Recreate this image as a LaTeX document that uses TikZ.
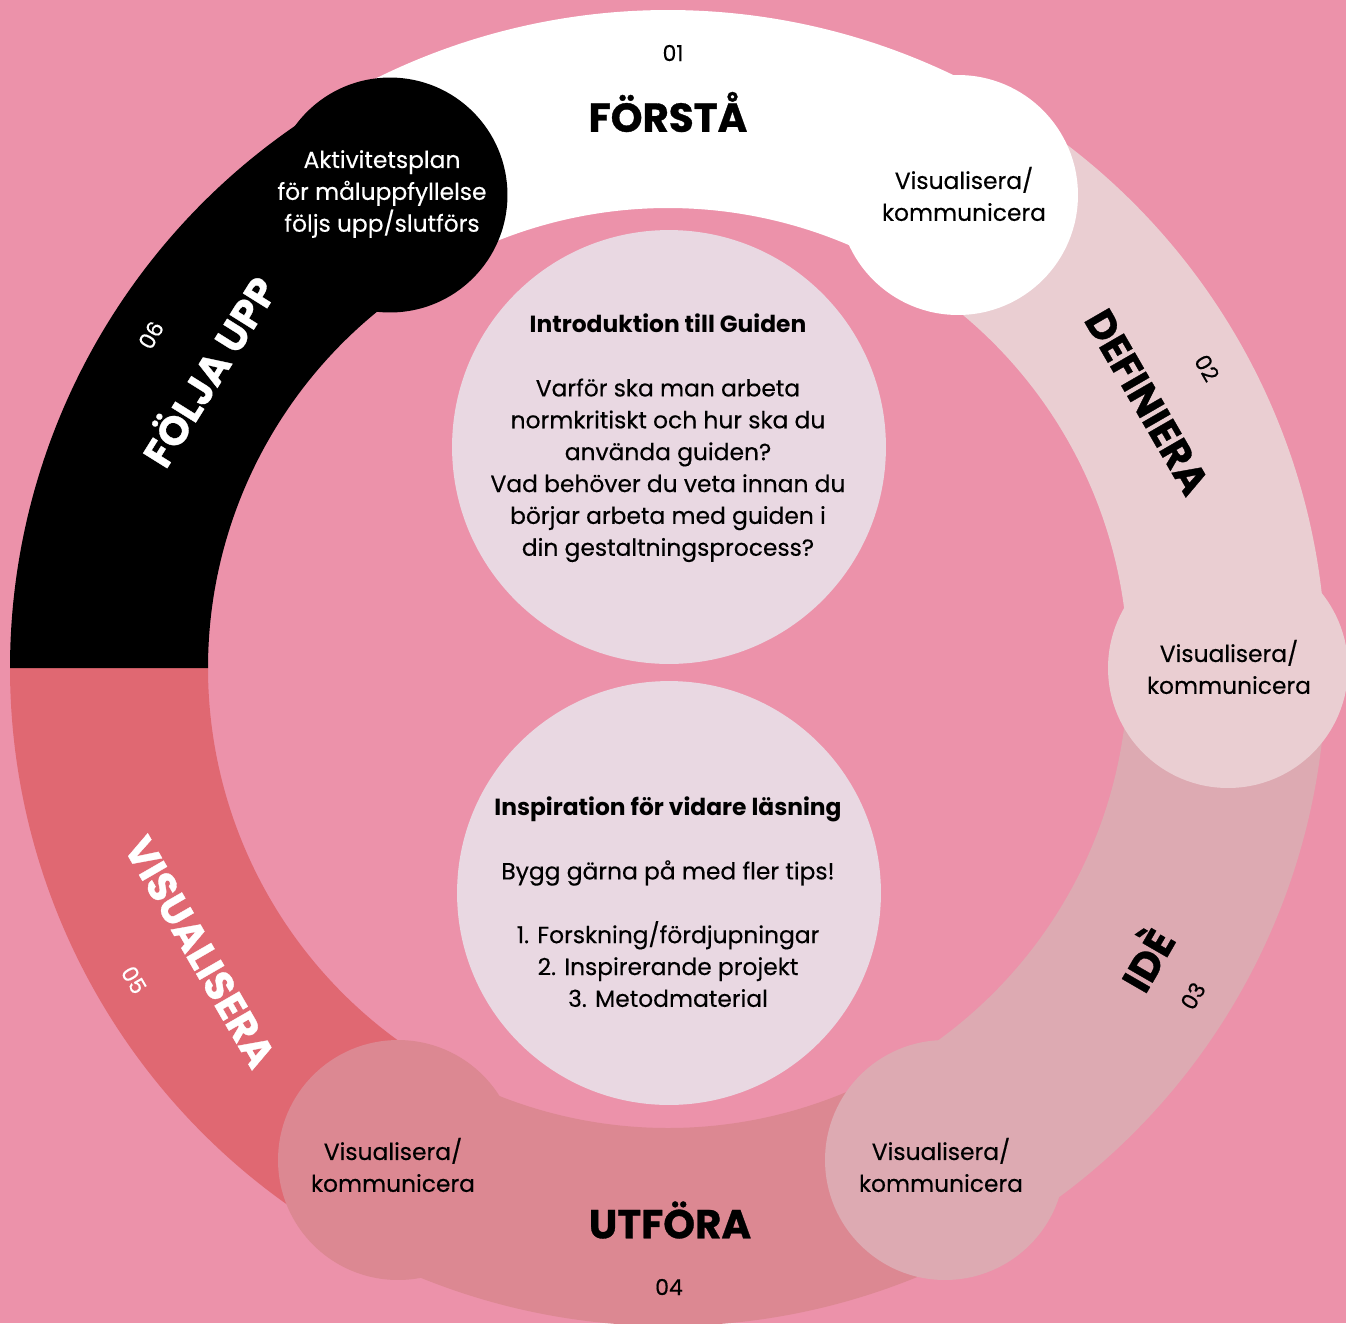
\documentclass[tikz,border=0pt]{standalone}
\usepackage{fontspec}
\setmainfont{Poppins}
\newfontfamily\medfont{Poppins}[FakeBold=0.35]
\newfontfamily\titlefont{Poppins}[FakeBold=0.8]
\newcommand\hdtxt[1]{{\rmfamily\bfseries #1}}
\definecolor{bg}{HTML}{EC92AA}
\definecolor{cwhite}{HTML}{FFFFFF}
\definecolor{cdef}{HTML}{EACED2}
\definecolor{cide}{HTML}{DDAAB2}
\definecolor{cutf}{HTML}{DC8892}
\definecolor{cvis}{HTML}{E06872}
\definecolor{cblk}{HTML}{000000}
\definecolor{cinner}{HTML}{E9D8E2}
\tikzset{
  bodytxt/.style={font=\medfont\fontsize{13.3}{18.14}\selectfont, align=center, inner sep=0pt},
  numtxt/.style={font=\medfont\fontsize{12.5}{14}\selectfont, inner sep=0pt},
  ringtxt/.style={font=\titlefont\fontsize{23}{26}\selectfont\bfseries, inner sep=0pt},
  bubble/.style={circle, inner sep=0pt, minimum size=4.8cm},
}
\begin{document}
\begin{tikzpicture}[x=0.02cm,y=0.02cm]
\useasboundingbox (0,0) rectangle (1346,-1323);
\fill[bg] (0,0) rectangle (1346,-1323);
% ring segments
\begin{scope}[shift={(668,-668)}]
\fill[cwhite] (120:658) arc[start angle=120,end angle=60,radius=658] -- (60:460) arc[start angle=60,end angle=120,radius=460] -- cycle;
\fill[cdef] (60:658) arc[start angle=60,end angle=0,radius=658] -- (0:460) arc[start angle=0,end angle=60,radius=460] -- cycle;
\fill[cide] (0:658) arc[start angle=0,end angle=-60,radius=658] -- (-60:460) arc[start angle=-60,end angle=0,radius=460] -- cycle;
\fill[cutf] (-60:658) arc[start angle=-60,end angle=-120,radius=658] -- (-120:460) arc[start angle=-120,end angle=-60,radius=460] -- cycle;
\fill[cvis] (-120:658) arc[start angle=-120,end angle=-180,radius=658] -- (-180:460) arc[start angle=-180,end angle=-120,radius=460] -- cycle;
\fill[cblk] (180:658) arc[start angle=180,end angle=120,radius=658] -- (120:460) arc[start angle=120,end angle=180,radius=460] -- cycle;
\end{scope}
% bubbles
\node[bubble, fill=cwhite] (bw) at (958,-195) {};
\node[bubble, fill=cdef] (bd) at (1228,-668) {};
\node[bubble, fill=cide] (bi) at (945,-1160) {};
\node[bubble, fill=cutf] (bu) at (398,-1160) {};
\node[bubble, fill=cblk, minimum size=4.7cm] (bk) at (390,-195) {};
% inner circles
\node[circle, fill=cinner, inner sep=0pt, minimum size=8.68cm] (c1) at (669,-447) {};
\node[circle, fill=cinner, inner sep=0pt, minimum size=8.48cm] (c2) at (669,-893) {};
% bubble texts
\node[bodytxt, text=white] (tk) at (382,-194) {Aktivitetsplan\\för måluppfyllelse\\följs upp/slutförs};
\node[bodytxt] (tw) at (964,-194) {Visualisera/\\kommunicera};
\node[bodytxt] (td) at (1229,-667) {Visualisera/\\kommunicera};
\node[bodytxt] (ti) at (941,-1165) {Visualisera/\\kommunicera};
\node[bodytxt] (tu) at (393,-1165) {Visualisera/\\kommunicera};
% inner texts
\node[bodytxt] (t1) at (668,-438) {\hdtxt{Introduktion till Guiden}\\[18.14pt]Varför ska man arbeta\\normkritiskt och hur ska du\\använda guiden?\\Vad behöver du veta innan du\\börjar arbeta med guiden i\\din gestaltningsprocess?};
\node[bodytxt] (t2) at (668,-902) {\hdtxt{Inspiration för vidare läsning}\\[18.14pt]Bygg gärna på med fler tips!\\[18.14pt]1. Forskning/fördjupningar\\2. Inspirerande projekt\\3. Metodmaterial};
% ring labels
\node[numtxt] (n1) at (673,-53) {01};
\node[ringtxt] (l1) at (668,-112) {FÖRSTÅ};
\node[ringtxt, rotate=-60] (l2) at (1147,-402) {DEFINIERA};
\node[numtxt, rotate=-60] (n2) at (1207,-368) {02};
\node[ringtxt, rotate=60] (l3) at (1144,-958) {IDÈ};
\node[numtxt, rotate=60] (n3) at (1193,-996) {03};
\node[ringtxt] (l4) at (670,-1220) {UTFÖRA};
\node[numtxt] (n4) at (669,-1287) {04};
\node[ringtxt, rotate=-60, text=white] (l5) at (200,-952) {VISUALISERA};
\node[numtxt, rotate=-60, text=white] (n5) at (134,-980) {05};
\node[ringtxt, rotate=58, text=white] (l6) at (207,-370) {FÖLJA UPP};
\node[numtxt, rotate=60, text=white] (n6) at (151,-335) {06};
\end{tikzpicture}
\end{document}
